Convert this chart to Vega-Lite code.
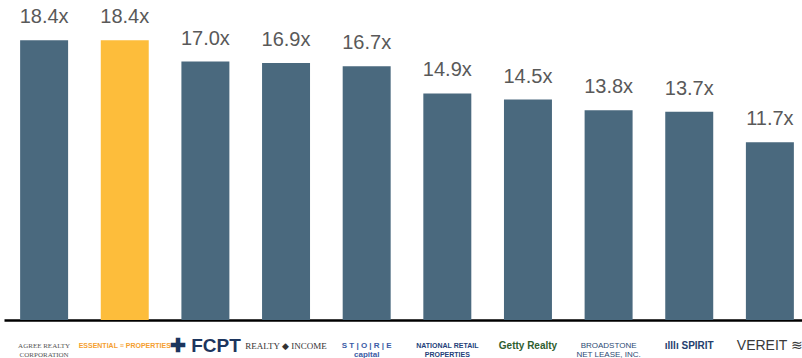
{
  "$schema": "https://vega.github.io/schema/vega-lite/v6.json",
  "width": 806,
  "height": 320,
  "padding": {"left": 4, "top": 0, "right": 0, "bottom": 0},
  "background": "white",
  "config": {"view": {"stroke": null}},
  "data": {
    "values": [
      {"company": "Agree", "multiple": 18.4, "label": "18.4x"},
      {"company": "Essential", "multiple": 18.4, "label": "18.4x"},
      {"company": "FCPT", "multiple": 17.0, "label": "17.0x"},
      {"company": "Realty Income", "multiple": 16.9, "label": "16.9x"},
      {"company": "STORE", "multiple": 16.7, "label": "16.7x"},
      {"company": "NNN", "multiple": 14.9, "label": "14.9x"},
      {"company": "Getty", "multiple": 14.5, "label": "14.5x"},
      {"company": "Broadstone", "multiple": 13.8, "label": "13.8x"},
      {"company": "Spirit", "multiple": 13.7, "label": "13.7x"},
      {"company": "VEREIT", "multiple": 11.7, "label": "11.7x"}
    ]
  },
  "encoding": {
    "x": {
      "field": "company",
      "type": "nominal",
      "sort": null,
      "scale": {"paddingInner": 0.405, "paddingOuter": 0.2},
      "axis": {
        "title": null,
        "ticks": false,
        "domainColor": "#000000",
        "domainWidth": 2.5,
        "labelAngle": 0,
        "labelPadding": 25,
        "labelBaseline": "middle",
        "labelLimit": 200,
        "labelOverlap": false,
        "labelLineHeight": 9,
        "labelExpr": "datum.value == 'Agree' ? ['AGREE REALTY', 'CORPORATION'] : datum.value == 'Essential' ? 'ESSENTIAL ≡ PROPERTIES' : datum.value == 'FCPT' ? '✚ FCPT' : datum.value == 'Realty Income' ? 'REALTY ◆ INCOME' : datum.value == 'STORE' ? ['S T | O | R | E', 'capital'] : datum.value == 'NNN' ? ['NATIONAL RETAIL', 'PROPERTIES'] : datum.value == 'Getty' ? 'Getty Realty' : datum.value == 'Broadstone' ? ['BROADSTONE', 'NET LEASE, INC.'] : datum.value == 'Spirit' ? 'ılllı SPIRIT' : 'VEREIT ≋'",
        "labelColor": {
          "condition": [
            {"test": "datum.value == 'Agree'", "value": "#555555"},
            {"test": "datum.value == 'Essential'", "value": "#f5a030"},
            {"test": "datum.value == 'FCPT'", "value": "#1c355e"},
            {"test": "datum.value == 'Realty Income'", "value": "#333333"},
            {"test": "datum.value == 'STORE'", "value": "#3b5ba5"},
            {"test": "datum.value == 'NNN'", "value": "#243f7a"},
            {"test": "datum.value == 'Getty'", "value": "#2f5e2f"},
            {"test": "datum.value == 'Broadstone'", "value": "#2c4a73"},
            {"test": "datum.value == 'Spirit'", "value": "#25406e"}
          ],
          "value": "#3a3a3a"
        },
        "labelFont": {
          "condition": [
            {"test": "datum.value == 'Agree' || datum.value == 'Realty Income'", "value": "Liberation Serif"}
          ],
          "value": "Liberation Sans"
        },
        "labelFontSize": {
          "condition": [
            {"test": "datum.value == 'FCPT'", "value": 19},
            {"test": "datum.value == 'VEREIT'", "value": 14},
            {"test": "datum.value == 'Getty' || datum.value == 'Spirit'", "value": 10},
            {"test": "datum.value == 'STORE' || datum.value == 'Broadstone'", "value": 8},
            {"test": "datum.value == 'Realty Income'", "value": 9}
          ],
          "value": 7
        },
        "labelFontWeight": {
          "condition": [
            {"test": "datum.value == 'FCPT' || datum.value == 'Getty' || datum.value == 'Spirit' || datum.value == 'STORE' || datum.value == 'NNN' || datum.value == 'Essential'", "value": "bold"}
          ],
          "value": "normal"
        }
      }
    },
    "y": {
      "field": "multiple",
      "type": "quantitative",
      "scale": {"domain": [0, 21.05], "nice": false, "zero": true},
      "axis": null
    }
  },
  "layer": [
    {
      "mark": {"type": "bar"},
      "encoding": {
        "color": {
          "condition": {"test": "datum.company == 'Essential'", "value": "#fdbd3b"},
          "value": "#4a697e"
        }
      }
    },
    {
      "mark": {
        "type": "text",
        "baseline": "alphabetic",
        "dy": -17,
        "font": "Liberation Sans",
        "fontSize": 20,
        "color": "#595959"
      },
      "encoding": {
        "text": {"field": "label", "type": "nominal"},
        "x": {"field": "company", "type": "nominal", "sort": null},
        "y": {"field": "multiple", "type": "quantitative"}
      }
    }
  ]
}
